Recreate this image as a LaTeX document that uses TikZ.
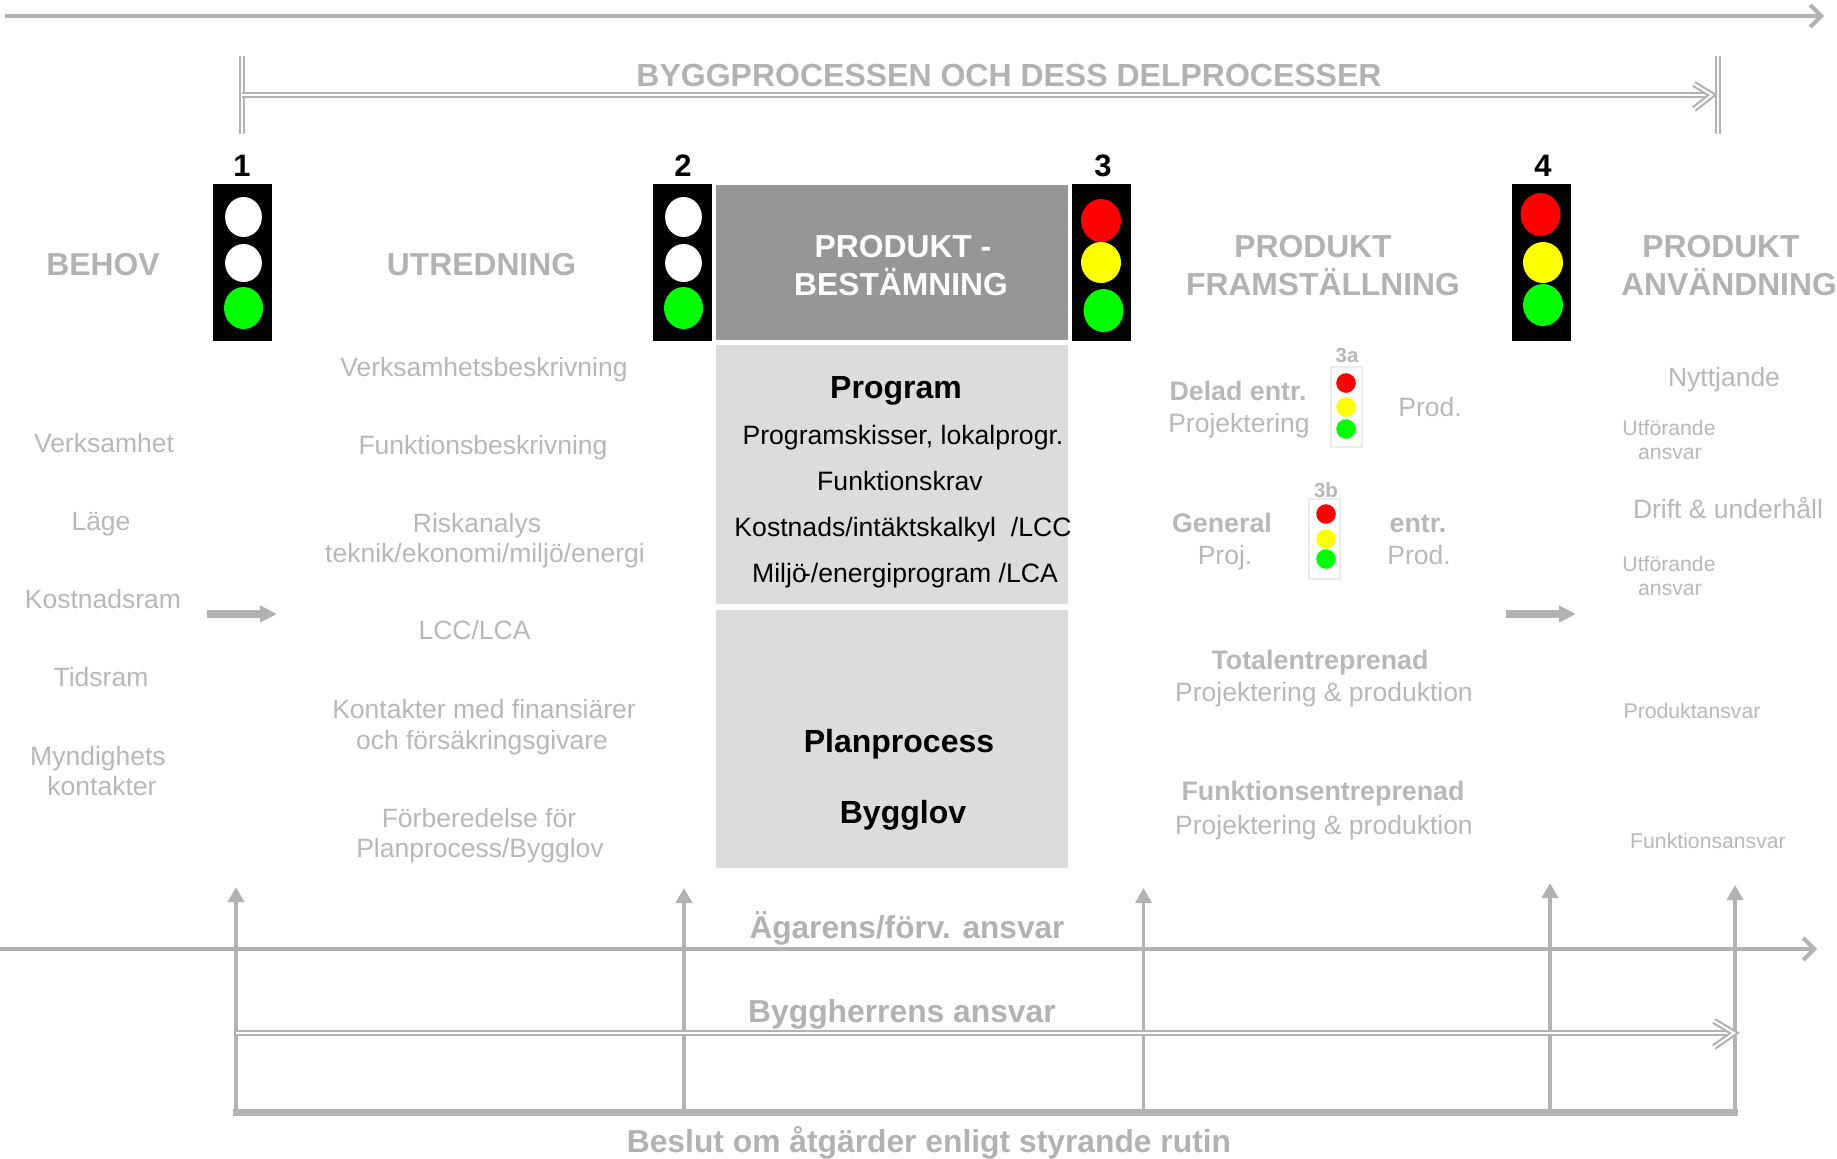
\documentclass[tikz,border=0pt]{standalone}
\usepackage{fontspec}
\setmainfont{Liberation Sans}
\usetikzlibrary{shapes.geometric,arrows.meta}
\definecolor{gl}{HTML}{B2B2B2}
\definecolor{gt}{HTML}{B8B8B8}
\definecolor{pb}{HTML}{969696}
\definecolor{lb}{HTML}{DCDCDC}
\definecolor{fr}{HTML}{ECECEC}
\definecolor{tred}{HTML}{FF0000}
\definecolor{tyel}{HTML}{FFFF00}
\definecolor{tgrn}{HTML}{00FF00}
\tikzset{
 txt/.style={inner sep=0pt,outer sep=0pt,text depth=0pt,align=center},
 head/.style={txt,text height=11.5pt,font=\fontsize{15.9}{18}\selectfont\bfseries,text=gl},
 num/.style={txt,text height=11.1pt,font=\fontsize{15.5}{18}\selectfont\bfseries,text=black},
 reg/.style={txt,text height=9.6pt,font=\fontsize{13.25}{16}\selectfont,text=gt},
 regb/.style={txt,text height=9.6pt,font=\fontsize{13.4}{16}\selectfont\bfseries,text=gt},
 small/.style={txt,text height=7.6pt,font=\fontsize{10.6}{13}\selectfont,text=gt},
 smallb/.style={txt,text height=7.3pt,font=\fontsize{10.2}{13}\selectfont\bfseries,text=gt},
 blk/.style={txt,text height=9.6pt,font=\fontsize{13.3}{16}\selectfont,text=black},
 blkb/.style={txt,text height=11.5pt,font=\fontsize{16}{18}\selectfont\bfseries,text=black},
 whb/.style={txt,text height=11.5pt,font=\fontsize{15.9}{18}\selectfont\bfseries,text=white},
 rail/.style={draw=gl,line width=2pt},
 post/.style={draw=gl,line width=1.8pt},
 posttip/.style={post,-{Triangle[length=7.5pt,width=8pt]}},
 barb/.style={rail,-{Straight Barb[length=5.5pt,width=11pt,line width=2pt]}},
 dbl/.style={draw=gl,line width=1.1pt,double=white,double distance=1pt},
 fat/.style={draw=gl,line width=4pt,-{Triangle[length=8.5pt,width=8pt,sep=0pt]}},
 signal/.style={fill=black,draw=none,inner sep=0pt,minimum width=29.5pt,minimum height=78.5pt},
 lamp/.style={ellipse,draw=none,inner sep=0pt},
 mini/.style={draw=fr,line width=1pt,fill=white,inner sep=0pt,minimum width=15.5pt,minimum height=40pt},
 dot/.style={circle,draw=none,inner sep=0pt,minimum size=9.8pt},
 area/.style={inner sep=0pt,draw=none,minimum width=176pt},
}
\begin{document}
\begin{tikzpicture}[x=0.5pt,y=-0.5pt]
\useasboundingbox (0,0) rectangle (1837,1158);
% coordinates
\coordinate (tl) at (5,16); \coordinate (tr) at (1824,16);
\coordinate (bl) at (242,56); \coordinate (bl2) at (242,134);
\coordinate (br) at (1718,56); \coordinate (br2) at (1718,134);
\coordinate (ds) at (242,95); \coordinate (de) at (1712,95);
\coordinate (dh1) at (1694,84); \coordinate (dh2) at (1694,109);
% top
\draw[barb] (tl) -- (tr);
\draw[dbl] (bl) -- (bl2);
\draw[dbl] (br) -- (br2);
\draw[dbl] (ds) -- (de);
\draw[dbl,line join=miter] (dh1) -- (de) -- (dh2);
\node[head,font=\fontsize{16}{18}\selectfont\bfseries] (title) at (1009,75) {BYGGPROCESSEN OCH DESS DELPROCESSER};
% numbers
\node[num] (n1) at (242,165) {1};
\node[num] (n2) at (683,165) {2};
\node[num] (n3) at (1103,165) {3};
\node[num] (n4) at (1543,165) {4};
% signals
\node[signal] (s1) at (242.5,262.5) {};
\node[signal] (s2) at (682.5,262.5) {};
\node[signal] (s3) at (1101.5,262.5) {};
\node[signal] (s4) at (1541.5,262.5) {};
\node[lamp,fill=white,minimum width=18.4pt,minimum height=20pt] (s1a) at (243.5,217) {};
\node[lamp,fill=white,minimum width=18.4pt,minimum height=19pt] (s1b) at (243.5,263) {};
\node[lamp,fill=tgrn,minimum width=19.5pt,minimum height=21pt] (s1c) at (243.5,308) {};
\node[lamp,fill=white,minimum width=18.4pt,minimum height=20pt] (s2a) at (683.5,217) {};
\node[lamp,fill=white,minimum width=18.4pt,minimum height=19pt] (s2b) at (683.5,263) {};
\node[lamp,fill=tgrn,minimum width=19.5pt,minimum height=21pt] (s2c) at (683.5,308) {};
\node[lamp,fill=tred,minimum width=20pt,minimum height=21.5pt] (s3a) at (1101,220.5) {};
\node[lamp,fill=tyel,minimum width=20pt,minimum height=20.5pt] (s3b) at (1101,262.5) {};
\node[lamp,fill=tgrn,minimum width=20pt,minimum height=21.5pt] (s3c) at (1103.5,310.5) {};
\node[lamp,fill=tred,minimum width=20pt,minimum height=21.5pt] (s4a) at (1540.5,214.5) {};
\node[lamp,fill=tyel,minimum width=20pt,minimum height=20.5pt] (s4b) at (1543,262.5) {};
\node[lamp,fill=tgrn,minimum width=20pt,minimum height=21pt] (s4c) at (1543,305) {};
% central boxes
\node[area,fill=pb,minimum height=77.5pt] (pbox) at (892,262.5) {};
\node[area,fill=lb,minimum height=129.5pt] (prog) at (892,474.5) {};
\node[area,fill=lb,minimum height=129pt] (plan) at (892,739) {};
% headings
\node[head] (behov) at (103,264) {BEHOV};
\node[head] (utr) at (481.5,264) {UTREDNING};
\node[whb] (pb1) at (903,246) {PRODUKT -};
\node[whb] (pb2) at (901,283.5) {BESTÄMNING};
\node[head] (pf1) at (1313,246) {PRODUKT};
\node[head] (pf2) at (1323,283.5) {FRAMSTÄLLNING};
\node[head] (pa1) at (1721,246) {PRODUKT};
\node[head] (pa2) at (1729,283.5) {ANVÄNDNING};
% left
\node[reg] (l1) at (104,443) {Verksamhet};
\node[reg] (l2) at (101,521) {Läge};
\node[reg] (l3) at (103,599) {Kostnadsram};
\node[reg] (l4) at (101,677) {Tidsram};
\node[reg] (l5) at (98,756) {Myndighets};
\node[reg] (l6) at (102,786) {kontakter};
% utredning
\node[reg] (u1) at (484,367) {Verksamhetsbeskrivning};
\node[reg] (u2) at (483,445) {Funktionsbeskrivning};
\node[reg] (u3) at (477,523) {Riskanalys};
\node[reg] (u4) at (485,553) {teknik/ekonomi/miljö/energi};
\node[reg] (u5) at (474.5,630) {LCC/LCA};
\node[reg] (u6) at (484,709) {Kontakter med finansiärer};
\node[reg] (u7) at (482,740) {och försäkringsgivare};
\node[reg] (u8) at (479,818) {Förberedelse för};
\node[reg] (u9) at (480,848) {Planprocess/Bygglov};
% program
\node[blkb] (p0) at (896,387) {Program};
\node[blk] (p1) at (903,435) {Programskisser, lokalprogr.};
\node[blk] (p2) at (900,481) {Funktionskrav};
\node[blk] (p3) at (903,527) {Kostnads/intäktskalkyl\ \ /LCC};
\node[blk] (p4) at (905,573) {Miljö\kern-.18em-/energiprogram /LCA};
\node[blkb] (p5) at (899,741) {Planprocess};
\node[blkb] (p6) at (903,812) {Bygglov};
% produktion
\node[smallb] (t3a) at (1347,355) {3a};
\node[mini] (m3a) at (1346.5,407) {};
\node[dot,fill=tred] (a1) at (1346,383) {};
\node[dot,fill=tyel] (a2) at (1346,407) {};
\node[dot,fill=tgrn] (a3) at (1346,429) {};
\node[smallb] (t3b) at (1326,490) {3b};
\node[mini] (m3b) at (1324.5,538.5) {};
\node[dot,fill=tred] (b1) at (1326,514) {};
\node[dot,fill=tyel] (b2) at (1326,539) {};
\node[dot,fill=tgrn] (b3) at (1326,559) {};
\node[regb] (d1) at (1238,391) {Delad entr.};
\node[reg] (d2) at (1239,423) {Projektering};
\node[reg] (d3) at (1430,407) {Prod.};
\node[regb] (g1) at (1222,523) {General};
\node[reg] (g2) at (1225,555) {Proj.};
\node[regb] (g3) at (1418,523) {entr.};
\node[reg] (g4) at (1419,555) {Prod.};
\node[regb] (e1) at (1320,660) {Totalentreprenad};
\node[reg] (e2) at (1324,692) {Projektering \& produktion};
\node[regb] (e3) at (1323,791) {Funktionsentreprenad};
\node[reg] (e4) at (1324,825) {Projektering \& produktion};
% anvandning
\node[reg] (r1) at (1724,377) {Nyttjande};
\node[small] (r2) at (1669,428) {Utförande};
\node[small] (r3) at (1670,452) {ansvar};
\node[reg] (r4) at (1728,509) {Drift \& underhåll};
\node[small] (r5) at (1669,564) {Utförande};
\node[small] (r6) at (1670,588) {ansvar};
\node[small] (r7) at (1692,711) {Produktansvar};
\node[small] (r8) at (1708,841) {Funktionsansvar};
% small arrows
\coordinate (fa1) at (207,614); \coordinate (fa2) at (277,614);
\coordinate (fb1) at (1506,614); \coordinate (fb2) at (1576,614);
\draw[fat] (fa1) -- (fa2);
\draw[fat] (fb1) -- (fb2);
% bottom
\coordinate (hl) at (0,949); \coordinate (hr) at (1817,949);
\coordinate (el) at (236,1033); \coordinate (er) at (1734,1033);
\coordinate (eh1) at (1714,1021); \coordinate (eh2) at (1714,1047);
\coordinate (ql) at (233,1112.5); \coordinate (qr) at (1738,1112.5);
\coordinate (q1) at (236,1112); \coordinate (w1) at (236,887);
\coordinate (q2) at (684,1112); \coordinate (w2) at (684,888);
\coordinate (q3) at (1143.5,1112); \coordinate (w3) at (1143.5,888);
\coordinate (q4) at (1550,1112); \coordinate (w4) at (1550,883);
\coordinate (q5) at (1735,1112); \coordinate (w5) at (1735,885);
\draw[barb] (hl) -- (hr);
\draw[posttip] (q1) -- (w1);
\draw[posttip] (q2) -- (w2);
\draw[posttip] (q3) -- (w3);
\draw[posttip] (q4) -- (w4);
\draw[posttip] (q5) -- (w5);
\draw[dbl] (el) -- (er);
\draw[dbl,line join=miter] (eh1) -- (er) -- (eh2);
\draw[draw=gl,line width=3.4pt] (ql) -- (qr);
\node[head,font=\fontsize{15.8}{18}\selectfont\bfseries] (ag) at (907,927) {Ägarens/förv. ansvar};
\node[head] (by) at (902,1011) {Byggherrens ansvar};
\node[head] (be) at (929,1141) {Beslut om åtgärder enligt styrande rutin};
\end{tikzpicture}
\end{document}
